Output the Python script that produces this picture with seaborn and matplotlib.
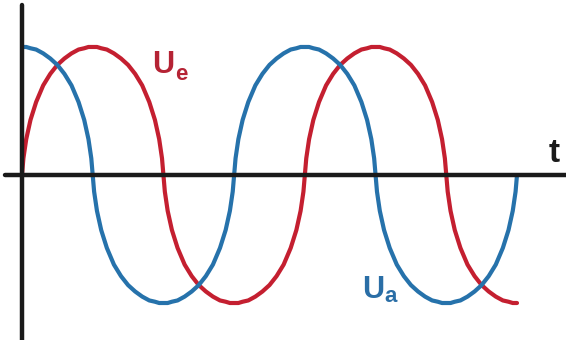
import matplotlib
matplotlib.use("Agg")
import matplotlib.pyplot as plt
import seaborn as sns
import pandas as pd

# time axis, in quarter periods (14 samples per quarter, denser near zero crossings)
OFFSETS = [0, .02, .06, .12, .2, .3, .4, .5, .6, .7, .8, .88, .94, .98]
t = [q + o for q in range(7) for o in OFFSETS] + [7]

# output voltage Ua (blue)
u_a = [
    1.0, 1.0, 1.0, .99, .98, .95, .91, .86, .79, .70, .57, .43, .28, .13,
    0, -.13, -.28, -.43, -.57, -.70, -.79, -.86, -.91, -.95, -.98, -.99, -1.0, -1.0,
    -1.0, -1.0, -1.0, -.99, -.98, -.95, -.91, -.86, -.79, -.70, -.57, -.43, -.28, -.13,
    0, .13, .28, .43, .57, .70, .79, .86, .91, .95, .98, .99, 1.0, 1.0,
    1.0, 1.0, 1.0, .99, .98, .95, .91, .86, .79, .70, .57, .43, .28, .13,
    0, -.13, -.28, -.43, -.57, -.70, -.79, -.86, -.91, -.95, -.98, -.99, -1.0, -1.0,
    -1.0, -1.0, -1.0, -.99, -.98, -.95, -.91, -.86, -.79, -.70, -.57, -.43, -.28, -.13,
    0,
]

# input voltage Ue (red)
u_e = [
    0, .13, .28, .43, .57, .70, .79, .86, .91, .95, .98, .99, 1.0, 1.0,
    1.0, 1.0, 1.0, .99, .98, .95, .91, .86, .79, .70, .57, .43, .28, .13,
    0, -.13, -.28, -.43, -.57, -.70, -.79, -.86, -.91, -.95, -.98, -.99, -1.0, -1.0,
    -1.0, -1.0, -1.0, -.99, -.98, -.95, -.91, -.86, -.79, -.70, -.57, -.43, -.28, -.13,
    0, .13, .28, .43, .57, .70, .79, .86, .91, .95, .98, .99, 1.0, 1.0,
    1.0, 1.0, 1.0, .99, .98, .95, .91, .86, .79, .70, .57, .43, .28, .13,
    0, -.13, -.28, -.43, -.57, -.70, -.79, -.86, -.91, -.95, -.98, -.99, -1.0, -1.0,
    -1.0,
]

df = pd.DataFrame({"t": t, "Ua": u_a, "Ue": u_e})

sns.set_style("white")
plt.rcParams["font.family"] = ["Liberation Sans", "DejaVu Sans"]

fig = plt.figure(figsize=(5.66, 3.4), dpi=100)
ax = fig.add_axes([0, 0, 1, 1])

red = "#c41f30"
blue = "#2672ab"

sns.lineplot(data=df, x="t", y="Ue", color=red, linewidth=3.0, sort=False, ax=ax, zorder=2)
sns.lineplot(data=df, x="t", y="Ua", color=blue, linewidth=3.0, sort=False, ax=ax, zorder=3)

ax.set_xlim(-0.311, 7.693)
ax.set_ylim(-1.289, 1.367)

# coordinate axes drawn as plain lines
ax.axhline(0, xmin=5 / 566, xmax=1, color="#1a1a1a", linewidth=3.2, zorder=5)
ax.axvline(0, ymin=0, ymax=335 / 340, color="#1a1a1a", linewidth=3.2, zorder=5)
ax.set_axis_off()

# labels
fig.text(152 / 566, 1 - 73 / 340, "U", color="#b52334", fontsize=22, fontweight="bold", va="baseline")
fig.text(175 / 566, 1 - 80 / 340, "e", color="#b52334", fontsize=16, fontweight="bold", va="baseline")
fig.text(362 / 566, 1 - 298 / 340, "U", color="#2a6ea6", fontsize=22, fontweight="bold", va="baseline")
fig.text(384 / 566, 1 - 302 / 340, "a", color="#2a6ea6", fontsize=16, fontweight="bold", va="baseline")
fig.text(549 / 566, 1 - 162 / 340, "t", color="#1a1a1a", fontsize=24, fontweight="bold", va="baseline")

plt.savefig("out.png", dpi=100)
